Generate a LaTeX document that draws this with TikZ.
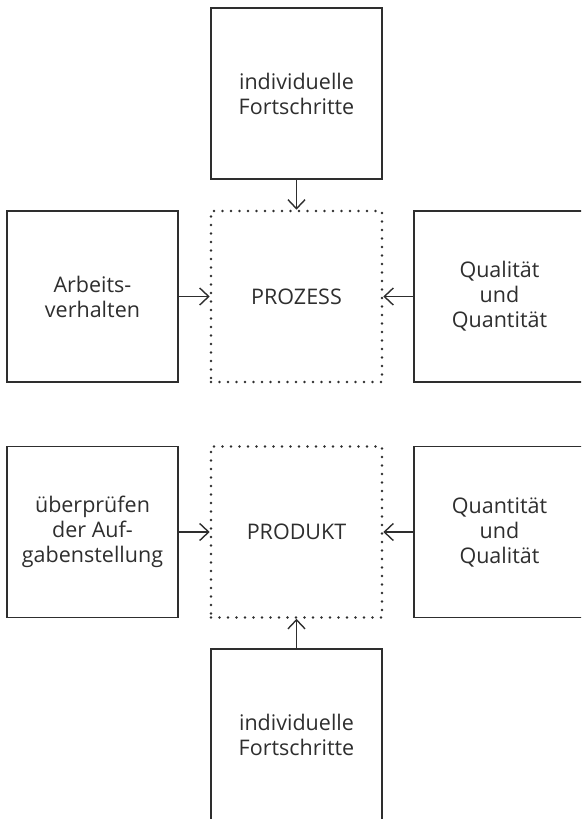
\documentclass[tikz,border=0pt]{standalone}
\usepackage{fontspec}
\setmainfont{Open Sans}
\usetikzlibrary{arrows.meta}
\definecolor{ink}{HTML}{2E2E2E}
\tikzset{
  box/.style={draw=ink, line width=1.4pt, minimum width=171pt, minimum height=171pt, inner sep=0pt, align=center, text=ink, font=\fontsize{21.5}{25}\selectfont},
  dotbox/.style={draw=ink, line width=2.6pt, line cap=round, dash pattern=on 0pt off 8.5pt, minimum width=171pt, minimum height=171pt, inner sep=0pt, align=center, text=ink, font=\fontsize{21.5}{25}\selectfont},
  conn/.style={draw=ink, line width=1.4pt, -{Straight Barb[length=9pt,width=17pt,line width=1.4pt]}}
}
\begin{document}
\begin{tikzpicture}[x=1pt,y=-1pt]
\useasboundingbox (0,0) rectangle (581,819);
\clip (0,0) rectangle (581,819);
\node[box] (t1) at (296.5,93.5) {individuelle\\Fortschritte};
\node[dotbox] (p1) at (296.5,296.5) {PROZESS};
\node[box] (l1) at (92.5,296.5) {Arbeits-\\verhalten};
\node[box] (r1) at (499.5,296.5) {Qualität\\und\\Quantität};
\node[dotbox] (p2) at (296.5,532) {PRODUKT};
\node[box] (l2) at (92.5,532) {überprüfen\\der Auf-\\gabenstellung};
\node[box] (r2) at (499.5,532) {Quantität\\und\\Qualität};
\node[box] (b2) at (296.5,734.5) {individuelle\\Fortschritte};
\draw[conn] (t1.south) -- (p1.north);
\draw[conn] (l1.east) -- (p1.west);
\draw[conn] (r1.west) -- (p1.east);
\draw[conn] (l2.east) -- (p2.west);
\draw[conn] (r2.west) -- (p2.east);
\draw[conn] (b2.north) -- (p2.south);
\end{tikzpicture}
\end{document}
